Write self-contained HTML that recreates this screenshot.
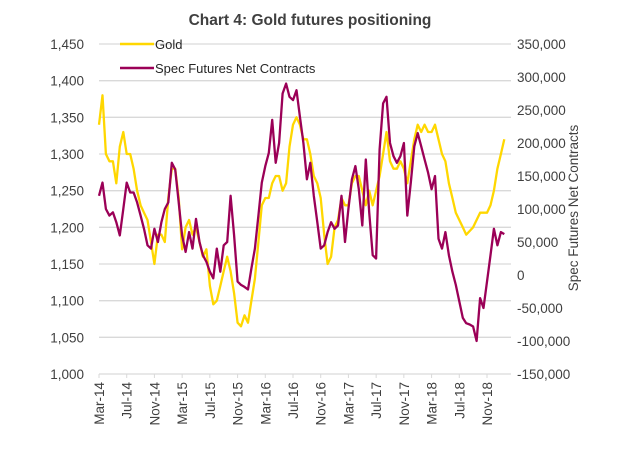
<!DOCTYPE html>
<html><head><meta charset="utf-8"><style>
body{margin:0;background:#fff;}
svg{display:block;font-family:"Liberation Sans",Arial,sans-serif;}
</style></head><body>
<svg id="chart" width="640" height="457" viewBox="0 0 640 457">
<text x="310" y="25" text-anchor="middle" font-size="15.5" font-weight="bold" fill="#404040">Chart 4: Gold futures positioning</text>
<g id="grid"></g><g id="axes"></g><g id="series"></g>
<g>
<line x1="120" y1="44" x2="154" y2="44" stroke="#FFD700" stroke-width="2.5"/>
<text x="155" y="49" font-size="13" fill="#262626">Gold</text>
<line x1="120" y1="68" x2="154" y2="68" stroke="#9B0057" stroke-width="2.5"/>
<text x="155" y="73" font-size="13" fill="#262626">Spec Futures Net Contracts</text>
</g>
<text transform="translate(578,208) rotate(-90)" text-anchor="middle" font-size="13.5" fill="#404040">Spec Futures Net Contracts</text>
</svg>
<script>
const xLabels=["Mar-14","Jul-14","Nov-14","Mar-15","Jul-15","Nov-15","Mar-16","Jul-16","Nov-16","Mar-17","Jul-17","Nov-17","Mar-18","Jul-18","Nov-18"];
const leftTicks=[1000,1050,1100,1150,1200,1250,1300,1350,1400,1450];
const rightTicks=[-150000,-100000,-50000,0,50000,100000,150000,200000,250000,300000,350000];
const gold=[1340,1380,1300,1290,1290,1260,1310,1330,1300,1300,1280,1250,1230,1220,1210,1180,1150,1190,1190,1180,1240,1280,1280,1240,1170,1200,1210,1190,1200,1180,1160,1170,1120,1095,1100,1120,1140,1160,1140,1110,1070,1065,1080,1070,1100,1130,1180,1230,1240,1240,1260,1270,1270,1250,1260,1310,1340,1350,1340,1320,1320,1300,1270,1260,1240,1190,1150,1160,1200,1210,1240,1230,1230,1260,1270,1270,1250,1230,1250,1230,1250,1270,1300,1330,1290,1280,1280,1290,1280,1260,1290,1320,1340,1330,1340,1330,1330,1340,1320,1300,1290,1260,1240,1220,1210,1200,1190,1195,1200,1210,1220,1220,1220,1230,1250,1280,1300,1320];
const spec=[120000,140000,100000,90000,95000,80000,60000,100000,140000,125000,125000,110000,90000,70000,45000,40000,70000,50000,80000,100000,110000,170000,160000,110000,60000,35000,65000,40000,85000,50000,30000,20000,5000,-5000,40000,5000,45000,50000,120000,60000,-10000,-15000,-18000,-22000,10000,40000,90000,140000,165000,185000,235000,170000,200000,275000,290000,270000,265000,280000,240000,200000,145000,170000,120000,80000,40000,45000,65000,80000,70000,75000,120000,50000,100000,145000,165000,130000,75000,175000,95000,30000,25000,190000,260000,270000,200000,180000,170000,180000,200000,90000,140000,195000,215000,195000,175000,155000,130000,150000,55000,40000,65000,30000,5000,-15000,-40000,-65000,-73000,-75000,-78000,-100000,-35000,-50000,-10000,30000,70000,45000,65000,62000];
const NS="http://www.w3.org/2000/svg";
const X0=99,X1=511,YT=44,YB=374;
const monthX=m=>X0+m*(487-X0)/56;
const yL=v=>YB-(v-1000)/450*(YB-YT);
const yR=v=>YB-(v+150000)/500000*(YB-YT);
function mk(tag,attrs,parent){const e=document.createElementNS(NS,tag);for(const k in attrs)e.setAttribute(k,attrs[k]);parent.appendChild(e);return e;}
const grid=document.getElementById('grid'),axes=document.getElementById('axes'),series=document.getElementById('series');
const fmt=v=>v.toLocaleString('en-US');
leftTicks.forEach(v=>{
  if(v>1000){const g=mk('line',{x1:X0,x2:X1,y1:yL(v),y2:yL(v),stroke:'#d9d9d9','stroke-width':1.3},grid);
  
  }
  const t=mk('text',{x:84,y:yL(v)+5,'text-anchor':'end','font-size':13.5,fill:'#404040'},axes);t.textContent=fmt(v);
  
  
});
rightTicks.forEach(v=>{
  const t=mk('text',{x:517,y:yR(v)+5,'font-size':13.5,fill:'#404040'},axes);t.textContent=fmt(v);
  
  
});
const ax=mk('line',{x1:X0,x2:X1,y1:YB,y2:YB,stroke:'#d9d9d9','stroke-width':1.3},axes);


xLabels.forEach((l,i)=>{
  const x=monthX(i*4);
  const tk=mk('line',{x1:x,x2:x,y1:YB,y2:YB+4,stroke:'#d9d9d9'},axes);
  
  
  const t=mk('text',{transform:`translate(${x+5},${YB+8}) rotate(-90)`,'text-anchor':'end','font-size':13.5,fill:'#404040'},axes);t.textContent=l;
  
  
});
function line(arr,yf,color,name){
  const pts=arr.map((v,i)=>monthX(i*0.5).toFixed(1)+','+yf(v).toFixed(1)).join(' ');
  const p=mk('polyline',{points:pts,fill:'none',stroke:color,'stroke-width':2.3,'stroke-linejoin':'round'},series);
  
  
}
line(gold,yL,'#FFD700','gold-line');
line(spec,yR,'#9B0057','spec-net-contracts-line');
</script>
</body></html>
